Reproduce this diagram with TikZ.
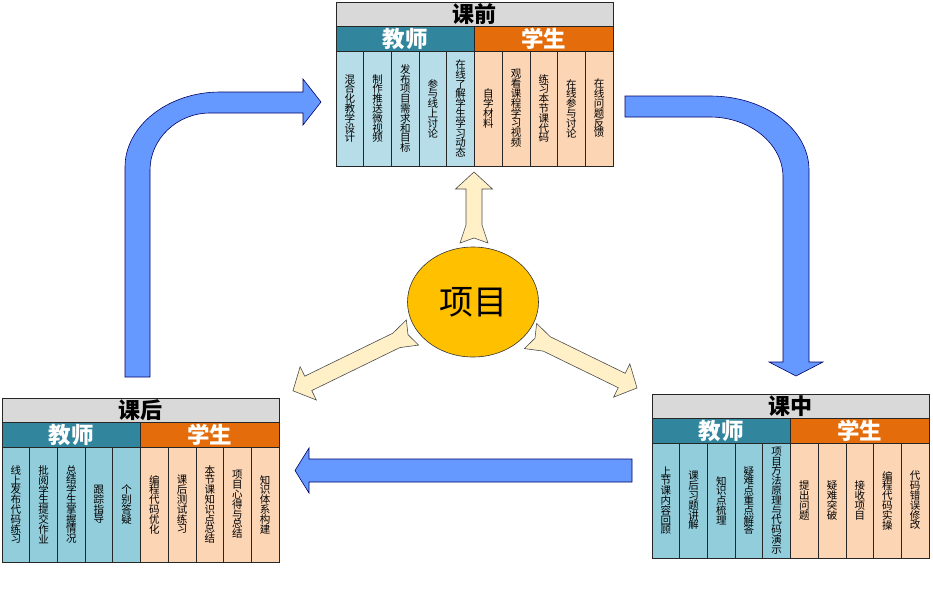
\documentclass[tikz,border=0pt]{standalone}
\usepackage{fontspec}
\setmainfont{Noto Sans CJK SC}
\usetikzlibrary{shapes.geometric}
\XeTeXlinebreaklocale "zh"
\XeTeXlinebreakskip=0pt plus 1pt

\definecolor{titlegray}{RGB}{217,217,217}
\definecolor{teachdark}{RGB}{49,133,156}
\definecolor{studark}{RGB}{228,108,10}
\definecolor{teachpale}{RGB}{183,222,232}
\definecolor{teachlight}{RGB}{146,205,220}
\definecolor{stulight}{RGB}{252,213,181}
\definecolor{flowblue}{RGB}{102,153,255}
\definecolor{cream}{RGB}{255,240,200}
\definecolor{projgold}{RGB}{255,192,0}

\tikzset{
  cell/.style={draw=black!85, line width=0.8pt, inner sep=0pt, outer sep=0pt},
  titlecell/.style={cell, fill=titlegray, minimum width=277pt, minimum height=24pt,
    font=\fontsize{22}{22}\selectfont\bfseries},
  headcell/.style={cell, minimum width=138.5pt, minimum height=25pt, text=white,
    font=\fontsize{22.5}{22.5}\selectfont\bfseries},
  colcell/.style={cell, minimum width=27.7pt, minimum height=115pt, text width=12pt,
    align=center, font=\fontsize{10.5}{9.8}\selectfont},
  flowarrow/.style={draw=black!60!blue, line width=0.6pt, fill=flowblue},
  creamarrow/.style={draw=black!70, line width=0.6pt, fill=cream},
}

\begin{document}
\begin{tikzpicture}[x=1pt, y=-1pt]
	\useasboundingbox (0,0) rectangle (933,589);

	% before class
	\begin{scope}[shift={(336,2)}]
		\node[titlecell] (pre-title) at (138.5,12) {课前};
		\node[headcell, fill=teachdark] (pre-teach) at (69.25,36.5) {教师};
		\node[headcell, fill=studark] (pre-stu) at (207.75,36.5) {学生};
		\foreach \txt [count=\i] in {混合化教学设计, 制作推送微视频, 发布项目需求和目标, 参与线上讨论, 在线了解学生学习动态}
			\node[colcell, fill=teachpale] (pre-t\i) at (\i*27.7-13.85,106.5) {\txt};
		\foreach \txt [count=\i] in {自学材料, 观看课程学习视频, 练习本节课代码, 在线参与讨论, 在线问题反馈}
			\node[colcell, fill=stulight] (pre-s\i) at (138.5+\i*27.7-13.85,106.5) {\txt};
	\end{scope}

	% in class
	\begin{scope}[shift={(652,394)}]
		\node[titlecell] (in-title) at (138.5,12) {课中};
		\node[headcell, fill=teachdark] (in-teach) at (69.25,36.5) {教师};
		\node[headcell, fill=studark] (in-stu) at (207.75,36.5) {学生};
		\foreach \txt [count=\i] in {上节课内容回顾, 课后习题讲解, 知识点梳理, 疑难点重点解答, 项目方法原理与代码演示}
			\node[colcell, fill=teachlight] (in-t\i) at (\i*27.7-13.85,106.5) {\txt};
		\foreach \txt [count=\i] in {提出问题, 疑难突破, 接收项目, 编程代码实操, 代码错误修改}
			\node[colcell, fill=stulight] (in-s\i) at (138.5+\i*27.7-13.85,106.5) {\txt};
	\end{scope}

	% after class
	\begin{scope}[shift={(2,398)}]
		\node[titlecell] (post-title) at (138.5,12) {课后};
		\node[headcell, fill=teachdark] (post-teach) at (69.25,36.5) {教师};
		\node[headcell, fill=studark] (post-stu) at (207.75,36.5) {学生};
		\foreach \txt [count=\i] in {线上发布代码练习, 批阅学生提交作业, 总结学生掌握情况, 跟踪指导, 个别答疑}
			\node[colcell, fill=teachlight] (post-t\i) at (\i*27.7-13.85,106.5) {\txt};
		\foreach \txt [count=\i] in {编程代码优化, 课后测试练习, 本节课知识点总结, 项目心得与总结, 知识体系构建}
			\node[colcell, fill=stulight] (post-s\i) at (138.5+\i*27.7-13.85,106.5) {\txt};
	\end{scope}

	% cycle arrows
	\path[flowarrow] (125,377) -- (125,167) .. controls (125,126) and (168,92) .. (220,92)
		-- (303,92) -- (303,79) -- (321,102) -- (303,125) -- (303,113) -- (210,113)
		.. controls (177,113) and (150,139) .. (150,170) -- (150,377) -- cycle;
	\path[flowarrow] (625,96) -- (710,96) .. controls (765,96) and (809,129) .. (809,170)
		-- (809,362) -- (823,362) -- (796,376) -- (769,362) -- (783,362) -- (783,177)
		.. controls (783,144) and (750,117) .. (710,117) -- (625,117) -- cycle;
	\path[flowarrow] (632,459) -- (309,459) -- (309,448) -- (295,470.5) -- (309,493)
		-- (309,482) -- (632,482) -- cycle;

	% project
	\node[ellipse, draw=black!80, line width=0.6pt, fill=projgold, minimum width=131pt,
		minimum height=110pt, font=\fontsize{34}{34}\selectfont] (proj) at (473,302) {项目};
	\foreach \tx/\ty/\ang/\len in {474/243/90/71, 412.5/332.5/206/133, 530.5/336/-26/118.5}
		\path[creamarrow, shift={(\tx,\ty)}, rotate=\ang] (5,0) -- (0,14) -- (18,8)
			-- (\len-17,8) -- (\len-17,18.5) -- (\len,0) -- (\len-17,-18.5)
			-- (\len-17,-8) -- (18,-8) -- (0,-14) -- cycle;
\end{tikzpicture}
\end{document}
